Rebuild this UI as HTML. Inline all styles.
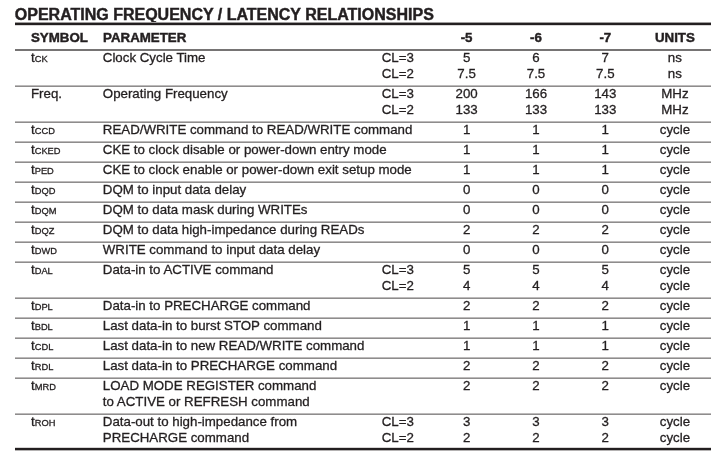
<!DOCTYPE html>
<html lang="en">
<head>
<meta charset="utf-8">
<title>Operating Frequency / Latency Relationships</title>
<style>
html,body{margin:0;padding:0;background:#fff;}
body{width:718px;height:456px;position:relative;overflow:hidden;font-family:"Liberation Sans",sans-serif;color:#231f20;}
.t{position:absolute;white-space:nowrap;font-size:13.3px;line-height:20px;height:20px;-webkit-text-stroke:0.3px #231f20;filter:blur(0.4px);}
.h{font-weight:bold;font-size:13.3px;-webkit-text-stroke-width:0.45px;}
.title{font-weight:bold;font-size:16px;-webkit-text-stroke-width:0.45px;}
.s{font-size:9.3px;}
.l{position:absolute;left:15px;width:696px;height:2px;}
.n{height:1px;background:#8e8c8c;border-top:1px solid #bcbaba;}
.f{height:2px;border:0;background:#767474;}
.k{background:#231f20;border-top:1px solid #a09e9e;border-bottom:1px solid #d8d6d6;}
.b{border-top-color:#d6d4d4;border-bottom-color:#b4b2b2;}
</style>
</head>
<body>
<div class="t title" style="top:5.46px;left:14.80px;">OPERATING FREQUENCY / LATENCY RELATIONSHIPS</div>
<div class="l k" style="top:22px"></div>
<div class="t h" style="top:27.59px;left:31.00px;">SYMBOL</div>
<div class="t h" style="top:27.59px;left:103.10px;">PARAMETER</div>
<div class="t h" style="top:27.59px;left:416.60px;width:100px;text-align:center;">-5</div>
<div class="t h" style="top:27.59px;left:486.00px;width:100px;text-align:center;">-6</div>
<div class="t h" style="top:27.59px;left:555.30px;width:100px;text-align:center;">-7</div>
<div class="t h" style="top:27.59px;left:624.90px;width:100px;text-align:center;">UNITS</div>
<div class="l n f" style="top:49px"></div>
<div class="t" style="top:47.89px;left:31.00px;">t<span class="s">CK</span></div>
<div class="t" style="top:47.89px;left:102.80px;">Clock Cycle Time</div>
<div class="t" style="top:47.89px;left:381.70px;">CL=3</div>
<div class="t" style="top:63.89px;left:381.70px;">CL=2</div>
<div class="t" style="top:47.89px;left:416.60px;width:100px;text-align:center;">5</div>
<div class="t" style="top:63.89px;left:416.60px;width:100px;text-align:center;">7.5</div>
<div class="t" style="top:47.89px;left:486.00px;width:100px;text-align:center;">6</div>
<div class="t" style="top:63.89px;left:486.00px;width:100px;text-align:center;">7.5</div>
<div class="t" style="top:47.89px;left:555.30px;width:100px;text-align:center;">7</div>
<div class="t" style="top:63.89px;left:555.30px;width:100px;text-align:center;">7.5</div>
<div class="t" style="top:47.89px;left:624.90px;width:100px;text-align:center;">ns</div>
<div class="t" style="top:63.89px;left:624.90px;width:100px;text-align:center;">ns</div>
<div class="l n" style="top:85px"></div>
<div class="t" style="top:83.89px;left:31.00px;">Freq.</div>
<div class="t" style="top:83.89px;left:102.80px;">Operating Frequency</div>
<div class="t" style="top:83.89px;left:381.70px;">CL=3</div>
<div class="t" style="top:99.89px;left:381.70px;">CL=2</div>
<div class="t" style="top:83.89px;left:416.60px;width:100px;text-align:center;">200</div>
<div class="t" style="top:99.89px;left:416.60px;width:100px;text-align:center;">133</div>
<div class="t" style="top:83.89px;left:486.00px;width:100px;text-align:center;">166</div>
<div class="t" style="top:99.89px;left:486.00px;width:100px;text-align:center;">133</div>
<div class="t" style="top:83.89px;left:555.30px;width:100px;text-align:center;">143</div>
<div class="t" style="top:99.89px;left:555.30px;width:100px;text-align:center;">133</div>
<div class="t" style="top:83.89px;left:624.90px;width:100px;text-align:center;">MHz</div>
<div class="t" style="top:99.89px;left:624.90px;width:100px;text-align:center;">MHz</div>
<div class="l n" style="top:121px"></div>
<div class="t" style="top:119.89px;left:31.00px;">t<span class="s">CCD</span></div>
<div class="t" style="top:119.89px;left:102.80px;">READ/WRITE command to READ/WRITE command</div>
<div class="t" style="top:119.89px;left:416.60px;width:100px;text-align:center;">1</div>
<div class="t" style="top:119.89px;left:486.00px;width:100px;text-align:center;">1</div>
<div class="t" style="top:119.89px;left:555.30px;width:100px;text-align:center;">1</div>
<div class="t" style="top:119.89px;left:624.90px;width:100px;text-align:center;">cycle</div>
<div class="l n" style="top:141px"></div>
<div class="t" style="top:139.89px;left:31.00px;">t<span class="s">CKED</span></div>
<div class="t" style="top:139.89px;left:102.80px;">CKE to clock disable or power-down entry mode</div>
<div class="t" style="top:139.89px;left:416.60px;width:100px;text-align:center;">1</div>
<div class="t" style="top:139.89px;left:486.00px;width:100px;text-align:center;">1</div>
<div class="t" style="top:139.89px;left:555.30px;width:100px;text-align:center;">1</div>
<div class="t" style="top:139.89px;left:624.90px;width:100px;text-align:center;">cycle</div>
<div class="l n" style="top:161px"></div>
<div class="t" style="top:159.89px;left:31.00px;">t<span class="s">PED</span></div>
<div class="t" style="top:159.89px;left:102.80px;">CKE to clock enable or power-down exit setup mode</div>
<div class="t" style="top:159.89px;left:416.60px;width:100px;text-align:center;">1</div>
<div class="t" style="top:159.89px;left:486.00px;width:100px;text-align:center;">1</div>
<div class="t" style="top:159.89px;left:555.30px;width:100px;text-align:center;">1</div>
<div class="t" style="top:159.89px;left:624.90px;width:100px;text-align:center;">cycle</div>
<div class="l n" style="top:181px"></div>
<div class="t" style="top:179.89px;left:31.00px;">t<span class="s">DQD</span></div>
<div class="t" style="top:179.89px;left:102.80px;">DQM to input data delay</div>
<div class="t" style="top:179.89px;left:416.60px;width:100px;text-align:center;">0</div>
<div class="t" style="top:179.89px;left:486.00px;width:100px;text-align:center;">0</div>
<div class="t" style="top:179.89px;left:555.30px;width:100px;text-align:center;">0</div>
<div class="t" style="top:179.89px;left:624.90px;width:100px;text-align:center;">cycle</div>
<div class="l n" style="top:201px"></div>
<div class="t" style="top:199.89px;left:31.00px;">t<span class="s">DQM</span></div>
<div class="t" style="top:199.89px;left:102.80px;">DQM to data mask during WRITEs</div>
<div class="t" style="top:199.89px;left:416.60px;width:100px;text-align:center;">0</div>
<div class="t" style="top:199.89px;left:486.00px;width:100px;text-align:center;">0</div>
<div class="t" style="top:199.89px;left:555.30px;width:100px;text-align:center;">0</div>
<div class="t" style="top:199.89px;left:624.90px;width:100px;text-align:center;">cycle</div>
<div class="l n" style="top:221px"></div>
<div class="t" style="top:219.89px;left:31.00px;">t<span class="s">DQZ</span></div>
<div class="t" style="top:219.89px;left:102.80px;">DQM to data high-impedance during READs</div>
<div class="t" style="top:219.89px;left:416.60px;width:100px;text-align:center;">2</div>
<div class="t" style="top:219.89px;left:486.00px;width:100px;text-align:center;">2</div>
<div class="t" style="top:219.89px;left:555.30px;width:100px;text-align:center;">2</div>
<div class="t" style="top:219.89px;left:624.90px;width:100px;text-align:center;">cycle</div>
<div class="l n" style="top:241px"></div>
<div class="t" style="top:239.89px;left:31.00px;">t<span class="s">DWD</span></div>
<div class="t" style="top:239.89px;left:102.80px;">WRITE command to input data delay</div>
<div class="t" style="top:239.89px;left:416.60px;width:100px;text-align:center;">0</div>
<div class="t" style="top:239.89px;left:486.00px;width:100px;text-align:center;">0</div>
<div class="t" style="top:239.89px;left:555.30px;width:100px;text-align:center;">0</div>
<div class="t" style="top:239.89px;left:624.90px;width:100px;text-align:center;">cycle</div>
<div class="l n" style="top:261px"></div>
<div class="t" style="top:259.89px;left:31.00px;">t<span class="s">DAL</span></div>
<div class="t" style="top:259.89px;left:102.80px;">Data-in to ACTIVE command</div>
<div class="t" style="top:259.89px;left:381.70px;">CL=3</div>
<div class="t" style="top:275.89px;left:381.70px;">CL=2</div>
<div class="t" style="top:259.89px;left:416.60px;width:100px;text-align:center;">5</div>
<div class="t" style="top:275.89px;left:416.60px;width:100px;text-align:center;">4</div>
<div class="t" style="top:259.89px;left:486.00px;width:100px;text-align:center;">5</div>
<div class="t" style="top:275.89px;left:486.00px;width:100px;text-align:center;">4</div>
<div class="t" style="top:259.89px;left:555.30px;width:100px;text-align:center;">5</div>
<div class="t" style="top:275.89px;left:555.30px;width:100px;text-align:center;">4</div>
<div class="t" style="top:259.89px;left:624.90px;width:100px;text-align:center;">cycle</div>
<div class="t" style="top:275.89px;left:624.90px;width:100px;text-align:center;">cycle</div>
<div class="l n" style="top:297px"></div>
<div class="t" style="top:295.89px;left:31.00px;">t<span class="s">DPL</span></div>
<div class="t" style="top:295.89px;left:102.80px;">Data-in to PRECHARGE command</div>
<div class="t" style="top:295.89px;left:416.60px;width:100px;text-align:center;">2</div>
<div class="t" style="top:295.89px;left:486.00px;width:100px;text-align:center;">2</div>
<div class="t" style="top:295.89px;left:555.30px;width:100px;text-align:center;">2</div>
<div class="t" style="top:295.89px;left:624.90px;width:100px;text-align:center;">cycle</div>
<div class="l n" style="top:317px"></div>
<div class="t" style="top:315.89px;left:31.00px;">t<span class="s">BDL</span></div>
<div class="t" style="top:315.89px;left:102.80px;">Last data-in to burst STOP command</div>
<div class="t" style="top:315.89px;left:416.60px;width:100px;text-align:center;">1</div>
<div class="t" style="top:315.89px;left:486.00px;width:100px;text-align:center;">1</div>
<div class="t" style="top:315.89px;left:555.30px;width:100px;text-align:center;">1</div>
<div class="t" style="top:315.89px;left:624.90px;width:100px;text-align:center;">cycle</div>
<div class="l n" style="top:337px"></div>
<div class="t" style="top:335.89px;left:31.00px;">t<span class="s">CDL</span></div>
<div class="t" style="top:335.89px;left:102.80px;">Last data-in to new READ/WRITE command</div>
<div class="t" style="top:335.89px;left:416.60px;width:100px;text-align:center;">1</div>
<div class="t" style="top:335.89px;left:486.00px;width:100px;text-align:center;">1</div>
<div class="t" style="top:335.89px;left:555.30px;width:100px;text-align:center;">1</div>
<div class="t" style="top:335.89px;left:624.90px;width:100px;text-align:center;">cycle</div>
<div class="l n" style="top:357px"></div>
<div class="t" style="top:355.89px;left:31.00px;">t<span class="s">RDL</span></div>
<div class="t" style="top:355.89px;left:102.80px;">Last data-in to PRECHARGE command</div>
<div class="t" style="top:355.89px;left:416.60px;width:100px;text-align:center;">2</div>
<div class="t" style="top:355.89px;left:486.00px;width:100px;text-align:center;">2</div>
<div class="t" style="top:355.89px;left:555.30px;width:100px;text-align:center;">2</div>
<div class="t" style="top:355.89px;left:624.90px;width:100px;text-align:center;">cycle</div>
<div class="l n" style="top:377px"></div>
<div class="t" style="top:375.89px;left:31.00px;">t<span class="s">MRD</span></div>
<div class="t" style="top:375.89px;left:102.80px;">LOAD MODE REGISTER command</div>
<div class="t" style="top:391.89px;left:102.80px;">to ACTIVE or REFRESH command</div>
<div class="t" style="top:375.89px;left:416.60px;width:100px;text-align:center;">2</div>
<div class="t" style="top:375.89px;left:486.00px;width:100px;text-align:center;">2</div>
<div class="t" style="top:375.89px;left:555.30px;width:100px;text-align:center;">2</div>
<div class="t" style="top:375.89px;left:624.90px;width:100px;text-align:center;">cycle</div>
<div class="l n" style="top:413px"></div>
<div class="t" style="top:411.89px;left:31.00px;">t<span class="s">ROH</span></div>
<div class="t" style="top:411.89px;left:102.80px;">Data-out to high-impedance from</div>
<div class="t" style="top:427.89px;left:102.80px;">PRECHARGE command</div>
<div class="t" style="top:411.89px;left:381.70px;">CL=3</div>
<div class="t" style="top:427.89px;left:381.70px;">CL=2</div>
<div class="t" style="top:411.89px;left:416.60px;width:100px;text-align:center;">3</div>
<div class="t" style="top:427.89px;left:416.60px;width:100px;text-align:center;">2</div>
<div class="t" style="top:411.89px;left:486.00px;width:100px;text-align:center;">3</div>
<div class="t" style="top:427.89px;left:486.00px;width:100px;text-align:center;">2</div>
<div class="t" style="top:411.89px;left:555.30px;width:100px;text-align:center;">3</div>
<div class="t" style="top:427.89px;left:555.30px;width:100px;text-align:center;">2</div>
<div class="t" style="top:411.89px;left:624.90px;width:100px;text-align:center;">cycle</div>
<div class="t" style="top:427.89px;left:624.90px;width:100px;text-align:center;">cycle</div>
<div class="l k b" style="top:447px"></div>
</body>
</html>
